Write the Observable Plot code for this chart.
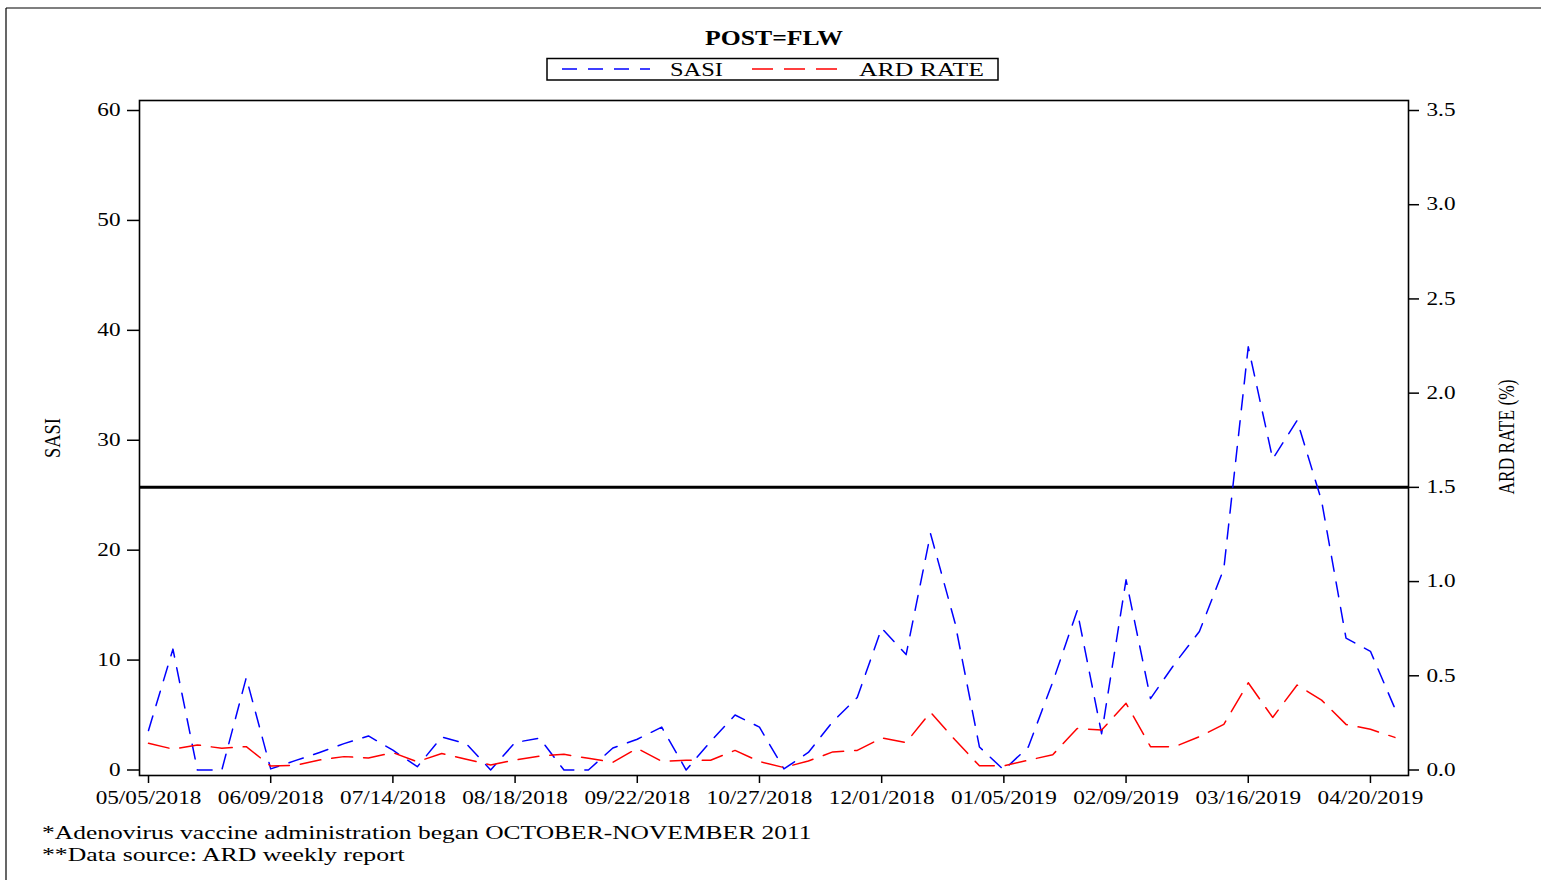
<!DOCTYPE html>
<html>
<head>
<meta charset="utf-8">
<script src="https://cdn.jsdelivr.net/npm/d3@7"></script>
<script src="https://cdn.jsdelivr.net/npm/@observablehq/plot@0.6"></script>
<style>
  html, body { margin: 0; padding: 0; background: white; overflow: hidden; }
  #chart { position: relative; width: 1541px; height: 880px; }
</style>
</head>
<body>
<div id="chart"></div>
<script>
// ---------- data ----------
const weeks = [
  "2018-05-05","2018-05-12","2018-05-19","2018-05-26","2018-06-02","2018-06-09","2018-06-16","2018-06-23",
  "2018-06-30","2018-07-07","2018-07-14","2018-07-21","2018-07-28","2018-08-04","2018-08-11","2018-08-18",
  "2018-08-25","2018-09-01","2018-09-08","2018-09-15","2018-09-22","2018-09-29","2018-10-06","2018-10-13",
  "2018-10-20","2018-10-27","2018-11-03","2018-11-10","2018-11-17","2018-11-24","2018-12-01","2018-12-08",
  "2018-12-15","2018-12-22","2018-12-29","2019-01-05","2019-01-12","2019-01-19","2019-01-26","2019-02-02",
  "2019-02-09","2019-02-16","2019-02-23","2019-03-02","2019-03-09","2019-03-16","2019-03-23","2019-03-30",
  "2019-04-06","2019-04-13","2019-04-20","2019-04-27"
];
const sasi = [
  3.6, 11.0, 0, 0, 8.4, 0.1, 0.85, 1.6, 2.4, 3.1,
  1.8, 0.3, 3.0, 2.4, 0, 2.5, 2.9, 0, 0, 2.0,
  2.8, 3.9, 0, 2.6, 5.0, 3.9, 0.1, 1.6, 4.4, 6.6,
  12.9, 10.5, 21.5, 13.4, 2.1, 0, 2.1, 8.0, 14.5, 3.3,
  17.3, 6.5, 9.7, 12.6, 18.3, 38.5, 28.3, 31.8, 24.5, 12.0,
  10.8, 5.6
];
const ardRate = [
  0.142, 0.111, 0.133, 0.115, 0.124, 0.021, 0.025, 0.053, 0.071, 0.064,
  0.092, 0.044, 0.088, 0.057, 0.027, 0.053, 0.074, 0.083, 0.062, 0.041,
  0.115, 0.046, 0.052, 0.052, 0.104, 0.045, 0.013, 0.048, 0.096, 0.104,
  0.170, 0.146, 0.306, 0.160, 0.022, 0.022, 0.052, 0.081, 0.220, 0.212,
  0.354, 0.124, 0.124, 0.177, 0.242, 0.463, 0.279, 0.451, 0.371, 0.242,
  0.216, 0.173
];
const xTickLabels = ["05/05/2018","06/09/2018","07/14/2018","08/18/2018","09/22/2018","10/27/2018",
                     "12/01/2018","01/05/2019","02/09/2019","03/16/2019","04/20/2019"];
const sasiTicks = [0, 10, 20, 30, 40, 50, 60];
const ardTicks = [0.0, 0.5, 1.0, 1.5, 2.0, 2.5, 3.0, 3.5];
const ardReference = [1.5];
const seriesNames = ["SASI", "ARD RATE"];
const titleText = "POST=FLW";
const footnotes = ["*Adenovirus vaccine administration began OCTOBER-NOVEMBER 2011",
                   "**Data source: ARD weekly report"];

// ---------- build ----------
const K = 60 / 3.5;               // right-axis (%) to left-axis (SASI) units
const DAY = 864e5;
const parseISO = d3.utcParse("%Y-%m-%d");
const parseTick = d3.utcParse("%m/%d/%Y");
const fmtTick = d3.utcFormat("%m/%d/%Y");
const table = weeks.map((w, i) => ({date: parseISO(w), sasi: sasi[i], ard: ardRate[i]}));
const first = table[0].date, last = table[table.length - 1].date;
const tickDates = xTickLabels.map(parseTick);
const FONT = "'Liberation Serif', 'Times New Roman', Times, serif";

const plot = Plot.plot({
  width: 1541,
  height: 880,
  marginTop: 100,
  marginBottom: 105,
  marginLeft: 139,
  marginRight: 133,
  style: {fontFamily: FONT, fontSize: "18px", background: "white", color: "black", maxWidth: "none", overflow: "hidden"},
  x: {type: "utc", domain: [new Date(+first - 2.58 * DAY), new Date(+last + 3.9 * DAY)]},
  y: {domain: [-0.5, 60.91]},
  marks: [
    Plot.ruleY(ardReference, {y: d => d * K, stroke: "black", strokeWidth: 3}),
    Plot.lineY(table, {x: "date", y: "sasi", stroke: "#0000ff", strokeWidth: 1.5, strokeDasharray: "15,11"}),
    Plot.lineY(table, {x: "date", y: d => d.ard * K, stroke: "#ff0000", strokeWidth: 1.5, strokeDasharray: "21,11"}),
    Plot.frame({stroke: "black", strokeWidth: 1.6}),
    Plot.axisY(sasiTicks, {anchor: "left", tickSize: 12, tickPadding: 7, strokeWidth: 1.5, label: null}),
    Plot.axisY(ardTicks.map(v => v * K), {anchor: "right", tickSize: 10, tickPadding: 8, strokeWidth: 1.5,
      tickFormat: v => (v / K).toFixed(1), label: null}),
    Plot.axisX(tickDates, {anchor: "bottom", tickSize: 8, tickPadding: 8, strokeWidth: 1.5,
      tickFormat: fmtTick, label: null})
  ]
});
document.getElementById("chart").appendChild(plot);

const svg = d3.select(plot);
// stretch tick labels horizontally like the reference (wide serif)
svg.selectAll("g[aria-label$='tick label'] text").each(function() {
  const t = d3.select(this);
  const tr = t.attr("transform") || "";
  t.attr("transform", tr + " scale(1.29,1)");
});

// helper to add stretched text fitting a target width
function addText(x, y, str, opts) {
  const t = svg.append("text")
    .attr("font-family", FONT)
    .attr("font-size", opts.size || 18)
    .attr("font-weight", opts.weight || "normal")
    .attr("text-anchor", opts.anchor || "start")
    .attr("fill", "black")
    .text(str);
  const natural = t.node().getComputedTextLength() || 1;
  const sx = opts.width ? opts.width / natural : 1.29;
  t.attr("transform", `translate(${x},${y}) scale(${sx},1)`);
  return t;
}

// outer page border (top & left)
svg.append("line").attr("x1", 6).attr("x2", 1541).attr("y1", 8).attr("y2", 8).attr("stroke", "black").attr("stroke-width", 1.2);
svg.append("line").attr("x1", 6).attr("x2", 6).attr("y1", 8).attr("y2", 880).attr("stroke", "black").attr("stroke-width", 1.2);

// title
addText(774, 45, titleText, {size: 20, weight: "bold", anchor: "middle", width: 138});

// legend
svg.append("rect").attr("x", 547).attr("y", 58.5).attr("width", 451).attr("height", 21.5)
  .attr("fill", "white").attr("stroke", "black").attr("stroke-width", 1.5);
svg.append("line").attr("x1", 562).attr("x2", 650).attr("y1", 69).attr("y2", 69)
  .attr("stroke", "#0000ff").attr("stroke-width", 1.5).attr("stroke-dasharray", "15,11");
svg.append("line").attr("x1", 752).attr("x2", 841).attr("y1", 69).attr("y2", 69)
  .attr("stroke", "#ff0000").attr("stroke-width", 1.5).attr("stroke-dasharray", "21,11");
addText(670, 76, seriesNames[0], {size: 18, width: 53});
addText(859, 76, seriesNames[1], {size: 18, width: 125});

// axis labels (rotated)
function addRotated(x, y, str, len) {
  const t = svg.append("text")
    .attr("font-family", FONT).attr("font-size", 18).attr("text-anchor", "middle")
    .attr("dy", "0.35em").attr("fill", "black").text(str);
  const natural = t.node().getComputedTextLength() || 1;
  const s = len / natural;
  t.attr("transform", `translate(${x},${y}) scale(1.25,1) rotate(-90) scale(${s},1)`);
}
addRotated(52, 438, seriesNames[0], 40);
addRotated(1506, 437, seriesNames[1] + " (%)", 115);

// footnotes
addText(42, 839, footnotes[0], {size: 18, width: 770});
addText(42, 861, footnotes[1], {size: 18, width: 363});
</script>
</body>
</html>
